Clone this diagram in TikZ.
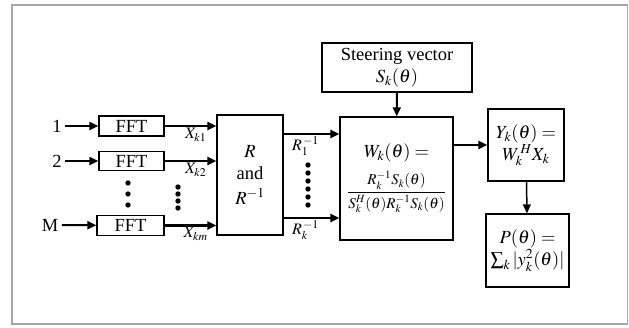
\documentclass[tikz,border=0pt]{standalone}
\usepackage{mathptmx}
\usepackage{fontspec}
\setmainfont{Liberation Serif}
\usetikzlibrary{arrows.meta,positioning}

\begin{document}
\begin{tikzpicture}[
    x=1pt, y=-1pt,
    font=\fontsize{18.5}{22}\selectfont,
    box/.style={rectangle, draw=black, line width=1.3pt, fill=white, inner sep=1pt, align=center},
    arrow/.style={line width=2.2pt, -{Triangle[length=9pt,width=8pt]}},
    lbl/.style={font=\fontsize{16}{18}\selectfont, inner sep=1pt}
]
\useasboundingbox (0,0) rectangle (629,327);
\draw [gray!70, line width=1.5pt] (12,5) rectangle (627.5,324);

% Nodes
\node (inA) at (57,126) {1};
\node (inB) at (57,161) {2};
\node (inM) at (50,225) {M};

\node (fftA) [box, minimum width=65pt, minimum height=20pt] at (131.5,126) {FFT};
\node (fftB) [box, minimum width=65pt, minimum height=19pt] at (131.5,161) {FFT};
\node (fftM) [box, minimum width=67pt, minimum height=20pt] at (130.5,225.5) {FFT};

\node (R) [box, minimum width=66pt, minimum height=120pt] at (250,175) {$R$\\and\\[3pt]$R^{-1}$};

\node (steer) [box, minimum width=150pt, minimum height=49pt] at (397,67.5) {Steering vector\\$S_k(\theta)$};

\node (W) [box, minimum width=113pt, minimum height=123pt] at (396.5,178.5)
    {$W_k(\theta)=$\\[8pt]{\fontsize{15}{17}\selectfont$\displaystyle\frac{R_k^{-1}S_k(\theta)\rule[-4pt]{0pt}{4pt}}{\rule{0pt}{14pt}S_k^H(\theta)R_k^{-1}S_k(\theta)}$}};

\node (Y) [box, minimum width=76pt, minimum height=72pt] at (526,145) {$Y_k(\theta)=$\\$W_k^{\,H}X_k$};

\node (P) [box, minimum width=83pt, minimum height=73pt] at (527.5,250.5) {$P(\theta)=$\\$\sum_k|y_k^2(\theta)|$};

% Inputs
\draw [arrow, line width=2pt] (inA) -- (fftA);
\draw [arrow, line width=2pt] (inB) -- (fftB);
\draw [arrow, line width=2pt] (inM) -- (fftM);

% FFT outputs
\draw [arrow] (fftA) -- (fftA -| R.west) node [lbl, pos=0.6, below] {$X_{k1}$};
\draw [arrow] (fftB) -- (fftB -| R.west) node [lbl, pos=0.6, below] {$X_{k2}$};
\draw [arrow] (fftM) -- (fftM -| R.west) node [lbl, pos=0.6, below] {$X_{km}$};

% Inverse matrices
\draw [arrow] ([yshift=41pt]R.east) -- ([yshift=41pt]R.east -| W.west) node [lbl, pos=0.39, below] {$R_1^{\,\mathrm{-1}}$};
\draw [arrow] ([yshift=-43pt]R.east) -- ([yshift=-43pt]R.east -| W.west) node [lbl, pos=0.39, below] {$R_k^{\,\mathrm{-1}}$};

\draw [arrow, line width=2pt] (steer) -- (W);
\draw [arrow] (W.east |- Y.west) -- (Y);
\draw [arrow, line width=1.5pt] (Y) -- (P);

% Dots
\foreach \y in {183,194,205} \fill (128,\y) circle (2.7pt);
\foreach \y in {187,194,201,208} \fill (178,\y) circle (2.7pt);
\foreach \y in {165,173,181,189,197,205} \fill (308,\y) circle (2.7pt);

\end{tikzpicture}
\end{document}
